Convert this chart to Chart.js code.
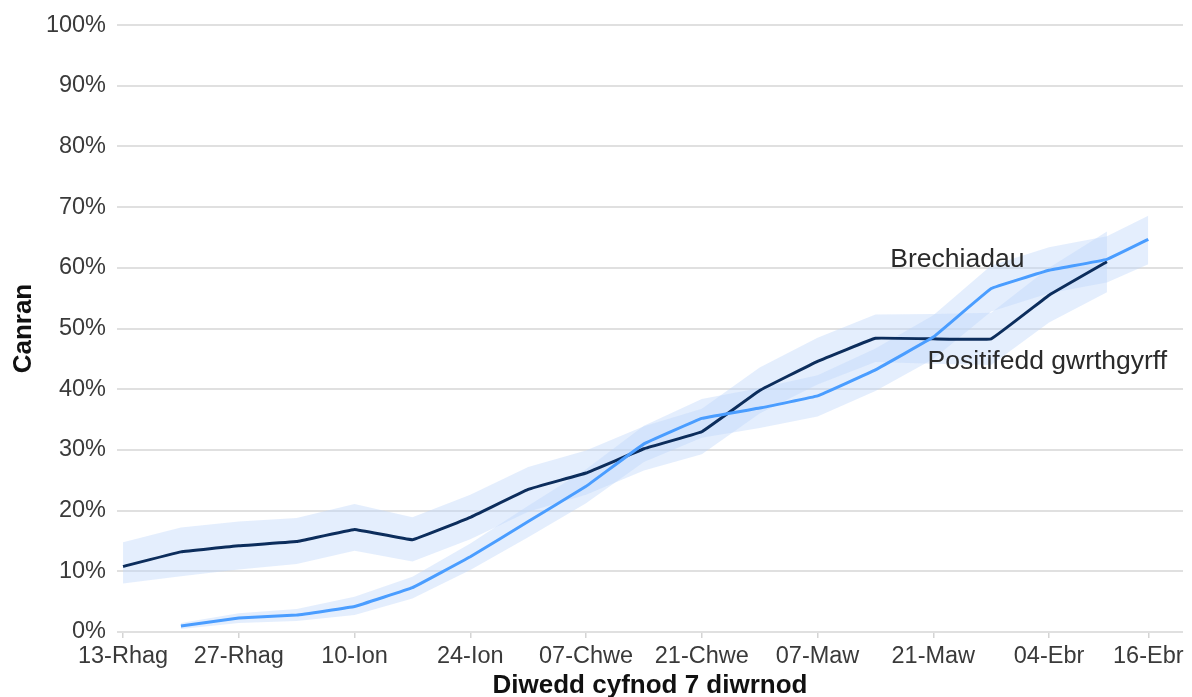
<!DOCTYPE html>
<html>
<head>
<meta charset="utf-8">
<script src="https://cdn.jsdelivr.net/npm/chart.js@4/dist/chart.umd.min.js"></script>
<style>
  html, body { margin: 0; padding: 0; background: #fff; }
  #wrap { width: 1192px; height: 697px; }
</style>
</head>
<body>
<div id="wrap"><canvas id="chart"></canvas></div>
<script>
// days since 13 Dec (end of each 7-day period)
const periodDays = [0, 7, 14, 21, 28, 35, 42, 49, 56, 63, 70, 77, 84, 91, 98, 105, 112, 119, 124];
const antibody = [10.8, 13.2, 14.2, 14.9, 16.9, 15.2, 18.9, 23.5, 26.2, 30.2, 33.0, 39.8, 44.6, 48.4, 48.3, 48.3, 55.5, 61.0, null];
const antibodyLow = [8.0, 9.2, 10.3, 11.2, 13.4, 11.6, 15.3, 19.8, 22.6, 26.6, 29.3, 36.0, 40.8, 44.5, 44.2, 44.0, 51.0, 56.0, null];
const antibodyHigh = [14.8, 17.2, 18.2, 18.8, 21.1, 18.9, 22.6, 27.2, 29.9, 33.9, 36.8, 43.6, 48.5, 52.3, 52.4, 52.6, 60.0, 66.0, null];
const vaccine = [null, 1.0, 2.3, 2.8, 4.2, 7.3, 12.4, 18.2, 24.0, 31.0, 35.2, 36.9, 38.9, 43.2, 48.6, 56.6, 59.6, 61.4, 64.7];
const vaccineLow = [null, 0.5, 1.5, 1.8, 2.8, 5.5, 10.2, 15.6, 21.2, 28.0, 32.0, 33.6, 35.5, 39.7, 45.0, 52.8, 55.8, 57.6, 60.6];
const vaccineHigh = [null, 1.5, 3.1, 3.8, 5.8, 9.1, 14.6, 20.8, 26.8, 34.0, 38.4, 40.2, 42.3, 46.7, 52.2, 60.4, 63.4, 65.2, 68.6];
const tickDays = [0, 14, 28, 42, 56, 70, 84, 98, 112, 124];
const tickLabels = ['13-Rhag', '27-Rhag', '10-Ion', '24-Ion', '07-Chwe', '21-Chwe', '07-Maw', '21-Maw', '04-Ebr', '16-Ebr'];
const seriesLabels = ['Brechiadau', 'Positifedd gwrthgyrff'];

const pts = arr => periodDays.map((d, i) => ({ x: d, y: arr[i] }));
const BAND = 'rgba(190,215,250,0.42)';
const FONT = "'Liberation Sans', Arial, sans-serif";

const band = (data, fill) => ({
  data, fill, order: 2, backgroundColor: BAND, borderWidth: 0, pointRadius: 0, tension: 0
});

new Chart(document.getElementById('chart'), {
  type: 'line',
  data: {
    datasets: [
      band(pts(antibodyHigh), '+1'),
      band(pts(antibodyLow), false),
      band(pts(vaccineHigh), '+1'),
      band(pts(vaccineLow), false),
      { label: seriesLabels[1], data: pts(antibody), order: 1, borderColor: '#0c2d5c', borderWidth: 3, pointRadius: 0, fill: false, tension: 0.05 },
      { label: seriesLabels[0], data: pts(vaccine), order: 0, borderColor: '#4a9dff', borderWidth: 3, pointRadius: 0, fill: false, tension: 0.05 }
    ]
  },
  options: {
    responsive: true,
    maintainAspectRatio: false,
    animation: false,
    layout: { padding: { top: 18, right: 9, left: 8, bottom: 0 } },
    plugins: { legend: { display: false }, tooltip: { enabled: false } },
    scales: {
      x: {
        type: 'linear',
        min: -0.73,
        max: 128.2,
        afterBuildTicks: s => { s.ticks = tickDays.map(v => ({ value: v })); },
        afterFit: s => { s.height = 65; },
        grid: { drawOnChartArea: false, drawTicks: true, tickLength: 6, color: '#d4d4d4', lineWidth: 1.5 },
        border: { display: false },
        ticks: {
          autoSkip: false, maxRotation: 0, padding: 4, color: '#3a3a3a',
          font: { family: FONT, size: 23.5 },
          callback: (v, i) => tickLabels[i]
        },
        title: {
          display: true, text: 'Diwedd cyfnod 7 diwrnod', color: '#111',
          font: { family: FONT, size: 26, weight: 'bold', lineHeight: 1 }, padding: { top: 0, bottom: -2 }
        }
      },
      y: {
        min: 0,
        max: 100,
        afterFit: s => { s.width = 109; },
        grid: { drawTicks: false, color: '#e0e0e0', lineWidth: 2 },
        border: { display: false },
        ticks: {
          stepSize: 10, padding: 11, color: '#3a3a3a',
          font: { family: FONT, size: 23.5 },
          callback: v => v + '%'
        },
        title: {
          display: true, text: 'Canran', color: '#111',
          font: { family: FONT, size: 26, weight: 'bold' }, padding: { top: 0, bottom: 0 }
        }
      }
    }
  },
  plugins: [{
    id: 'seriesNames',
    afterDatasetsDraw(chart) {
      const { ctx, scales: { x, y } } = chart;
      ctx.save();
      ctx.fillStyle = '#2a2a2a';
      ctx.font = '26.5px ' + FONT;
      ctx.textAlign = 'left';
      ctx.textBaseline = 'alphabetic';
      ctx.fillText(seriesLabels[0], x.getPixelForValue(92.8), y.getPixelForValue(60.2));
      ctx.fillText(seriesLabels[1], x.getPixelForValue(97.3), y.getPixelForValue(43.4));
      ctx.restore();
    }
  }]
});
</script>
</body>
</html>
